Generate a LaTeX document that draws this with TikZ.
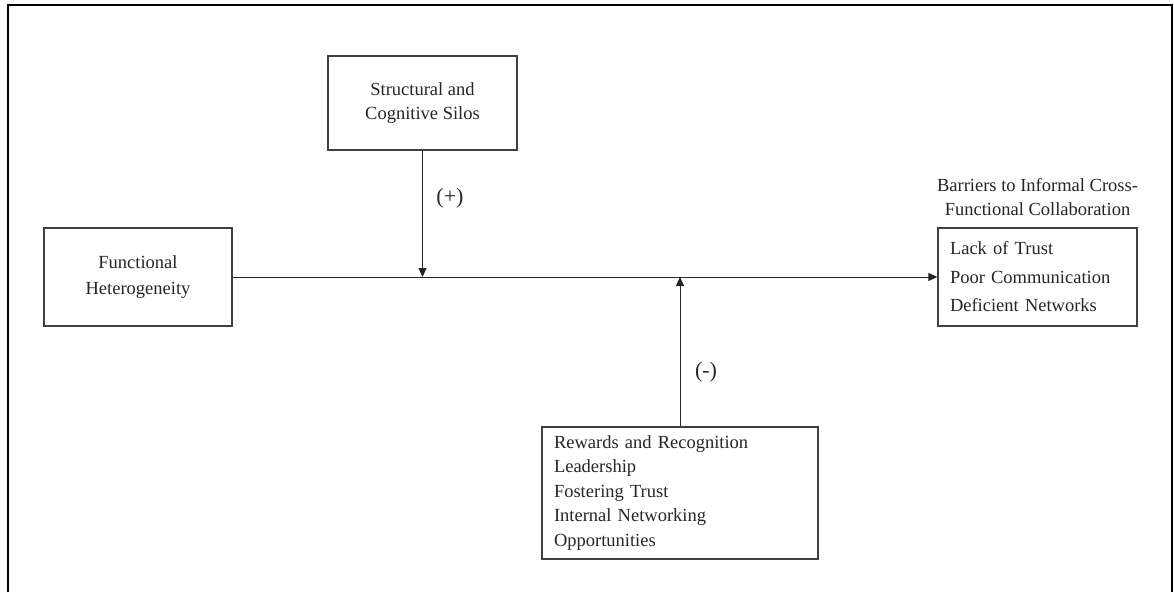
\documentclass[tikz,border=0pt]{standalone}
\usepackage{fontspec}
\setmainfont{Liberation Serif}
\usetikzlibrary{arrows.meta}
\definecolor{boxline}{HTML}{404040}
\definecolor{txt}{HTML}{262626}
\begin{document}
\begin{tikzpicture}[x=1pt,y=-1pt,
  every node/.style={text=txt},
  mybox/.style={draw=boxline,line width=1.3pt,rectangle,inner sep=0pt},
  conn/.style={draw=txt,line width=1pt},
  arr/.style={conn,-{Triangle[length=9pt,width=8pt]}},
  lbl/.style={font=\fontsize{22}{24}\selectfont}
]
\useasboundingbox (0,0) rectangle (1174,592);
\fill[white] (0,0) rectangle (1174,592);
% outer frame
\draw[line width=2.5pt,black] (8,592) -- (8,5) -- (1172,5) -- (1172,592);

\node[mybox,minimum width=189pt,minimum height=94pt,align=center,
  font=\fontsize{18.5}{24}\selectfont] (silos) at (422.5,103)
  {Structural and\\Cognitive Silos};

\node[mybox,minimum width=188pt,minimum height=98pt,align=center,
  font=\fontsize{18.5}{26}\selectfont] (func) at (138,277)
  {Functional\\Heterogeneity};

\node[mybox,minimum width=199pt,minimum height=98pt,align=left,
  text width=175pt,font=\fontsize{18.5}{28.5}\selectfont] (barr) at (1037.5,277)
  {Lack of Trust\\Poor Communication\\Deficient Networks};

\node[align=center,font=\fontsize{18.5}{24}\selectfont] (title) at (1037.5,197)
  {Barriers to Informal Cross-\\Functional Collaboration};

\node[mybox,minimum width=276pt,minimum height=132pt,align=left,
  text width=252pt,font=\fontsize{18.5}{24.5}\selectfont] (mods) at (680,493)
  {Rewards and Recognition\\Leadership\\Fostering Trust\\Internal Networking\\Opportunities};

\coordinate (jplus) at (silos.south |- func.east);
\coordinate (jminus) at (mods.north |- func.east);

\draw[arr] (func.east) -- (barr.west);
\draw[arr] (silos.south) -- (jplus);
\draw[arr] (mods.north) -- (jminus);

\node[lbl] (plus) at (450,198) {(+)};
\node[lbl] (minus) at (706,372) {(-)};
\end{tikzpicture}
\end{document}
